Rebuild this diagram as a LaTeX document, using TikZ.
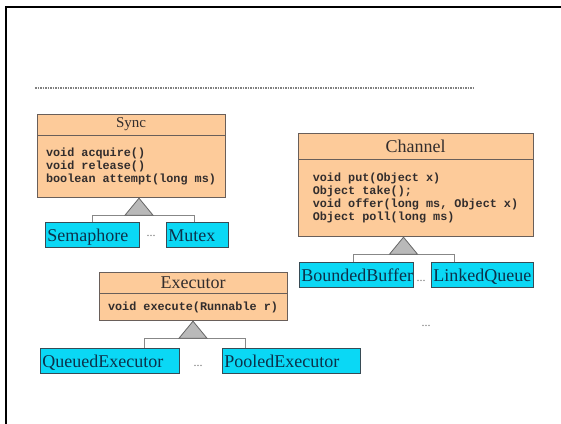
\documentclass[tikz,border=0pt]{standalone}
\usepackage{fontspec}
\setmainfont{Liberation Serif}
\newfontfamily\codefont{Liberation Mono}
\usetikzlibrary{positioning,calc}

\definecolor{classfill}{RGB}{253,203,154}
\definecolor{classline}{RGB}{105,95,90}
\definecolor{titletext}{RGB}{50,45,45}
\definecolor{subfill}{RGB}{10,216,245}
\definecolor{subline}{RGB}{55,75,85}
\definecolor{subtext}{RGB}{12,50,75}
\definecolor{inhfill}{RGB}{185,185,185}
\definecolor{inhline}{RGB}{135,135,135}

\begin{document}
\begin{tikzpicture}[
  x=1pt, y=-1pt,
  classname/.style={draw=classline, fill=classfill, line width=0.8pt, inner sep=0pt, text=titletext, font=\fontsize{18}{18}\selectfont},
  classbody/.style={draw=classline, fill=classfill, line width=0.8pt, inner sep=0pt, anchor=north, align=left, text=titletext, font=\codefont\bfseries\fontsize{11.8}{13}\selectfont},
  subbox/.style={draw=subline, fill=subfill, line width=0.8pt, anchor=north west, inner xsep=2pt, inner ysep=0pt, text height=19pt, text depth=6pt, align=left, text=subtext, font=\fontsize{18}{18}\selectfont},
  inhtri/.style={draw=black!60, fill=inhfill, line width=0.8pt},
  inhedge/.style={draw=inhline, line width=0.8pt},
  etc/.style={text=black!55, inner sep=0pt, font=\fontsize{12}{12}\selectfont}
]
  \useasboundingbox (0,0) rectangle (561,423);
  % frame and rule
  \draw[line width=2pt] (5.5,430) -- (5.5,7) -- (570,7);
  \draw[black!50, line width=2.5pt, dash pattern=on 1.5pt off 1pt] (35,88) -- (473,88);

  % Sync
  \node[classname, minimum width=188pt, minimum height=21pt, font=\fontsize{15}{15}\selectfont] (synctitle) at (131,124.5) {Sync};
  \node[classbody, minimum width=188pt, minimum height=62pt] (sync) at (synctitle.south) {void acquire()\\void release()\\boolean attempt(long ms)};
  \node[subbox, text width=90pt] (semaphore) at (45,222) {Semaphore};
  \node[subbox, text width=58pt] (mutex) at (166,222) {Mutex};
  \node[etc] at (151,236) {...};
  \coordinate (syncbar) at ($(sync.south)+(8,17)$);
  \draw[inhedge] (semaphore.north) |- (syncbar) -| ([xshift=-3pt]mutex.north);
  \draw[inhtri] ([xshift=8pt]sync.south) -- ++(-14,17) -- ++(28,0) -- cycle;

  % Channel
  \node[classname, minimum width=235pt, minimum height=26pt] (channeltitle) at (415.5,146) {Channel};
  \node[classbody, minimum width=235pt, minimum height=77pt] (channel) at (channeltitle.south) {void put(Object x)\\Object take();\\void offer(long ms, Object x)\\Object poll(long ms)};
  \node[subbox, text width=110pt] (boundedbuffer) at (299,262) {BoundedBuffer};
  \node[subbox, text width=98pt] (linkedqueue) at (431,262) {LinkedQueue};
  \node[etc] at (421,281) {...};
  \node[etc] at (426,326) {...};
  \coordinate (channelbar) at ($(channel.south)+(-12,17)$);
  \draw[inhedge] ([xshift=-3pt]boundedbuffer.north) |- (channelbar) -| ([xshift=-28pt]linkedqueue.north);
  \draw[inhtri] ([xshift=-12pt]channel.south) -- ++(-14,17) -- ++(28,0) -- cycle;

  % Executor
  \node[classname, minimum width=188pt, minimum height=21pt] (executortitle) at (193,282.5) {Executor};
  \node[classbody, minimum width=188pt, minimum height=27pt] (executor) at (executortitle.south) {void execute(Runnable r)};
  \node[subbox, text width=135pt] (queuedexecutor) at (40,348) {QueuedExecutor};
  \node[subbox, text width=134pt] (pooledexecutor) at (222,348) {PooledExecutor};
  \node[etc] at (198,366) {...};
  \coordinate (executorbar) at ($(executor.south)+(0,17)$);
  \draw[inhedge] ([xshift=34.5pt]queuedexecutor.north) |- (executorbar) -| ([xshift=-46pt]pooledexecutor.north);
  \draw[inhtri] (executor.south) -- ++(-14,17) -- ++(28,0) -- cycle;
\end{tikzpicture}
\end{document}
